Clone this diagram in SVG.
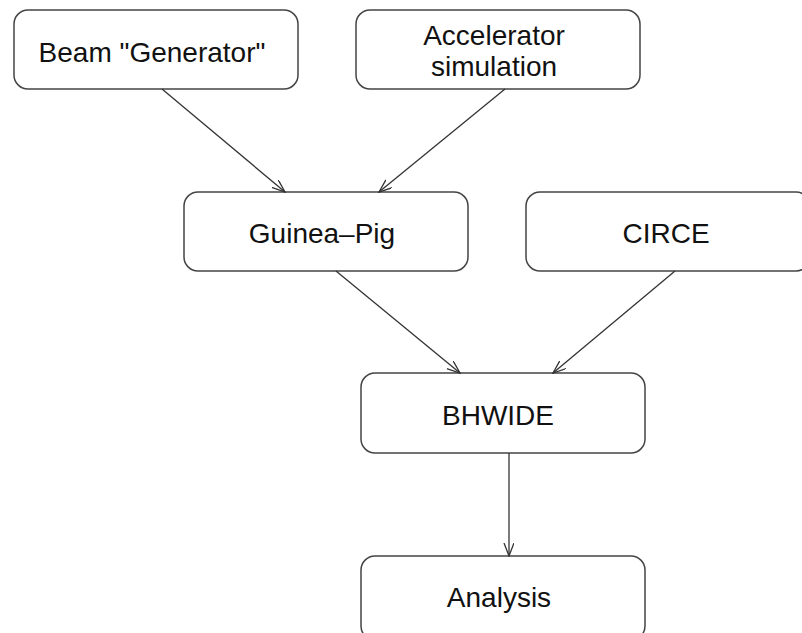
<svg xmlns="http://www.w3.org/2000/svg" width="802" height="633" viewBox="0 0 802 633">
<defs>
<style>
.box{fill:#fff;stroke:#444;stroke-width:1.5}
.lbl{font-family:"Liberation Sans",Arial,sans-serif;font-size:28px;fill:#111;text-anchor:middle}
.con{stroke:#333;stroke-width:1.3;fill:none;marker-end:url(#arr)}
</style>
<marker id="arr" markerWidth="14" markerHeight="12" refX="13" refY="5" orient="auto" markerUnits="userSpaceOnUse">
<path d="M0,0 L13,5 L0,10" fill="none" stroke="#333" stroke-width="1.3"/>
</marker>
</defs>
<rect width="802" height="633" fill="#fff"/>
<g id="beam"><rect class="box" x="14" y="10" width="284" height="79" rx="14"/><text class="lbl" x="152" y="62">Beam "Generator"</text></g>
<g id="accel"><rect class="box" x="356" y="10" width="284" height="79" rx="14"/><text class="lbl" x="494" y="45">Accelerator</text><text class="lbl" x="494" y="76">simulation</text></g>
<g id="guinea"><rect class="box" x="184" y="192" width="284" height="79" rx="14"/><text class="lbl" x="322" y="243">Guinea–Pig</text></g>
<g id="circe"><rect class="box" x="526" y="192" width="284" height="79" rx="14"/><text class="lbl" x="666" y="243">CIRCE</text></g>
<g id="bhwide"><rect class="box" x="361" y="373" width="284" height="80" rx="14"/><text class="lbl" x="498" y="425">BHWIDE</text></g>
<g id="analysis"><rect class="box" x="361" y="556" width="284" height="84" rx="14"/><text class="lbl" x="499" y="607">Analysis</text></g>
<g id="connectors">
<line class="con" x1="162" y1="89" x2="285" y2="192"/>
<line class="con" x1="505" y1="89" x2="379" y2="192"/>
<line class="con" x1="336" y1="271" x2="460" y2="373"/>
<line class="con" x1="675" y1="271" x2="553" y2="373"/>
<line class="con" x1="509" y1="453" x2="509" y2="556"/>
</g>
</svg>
